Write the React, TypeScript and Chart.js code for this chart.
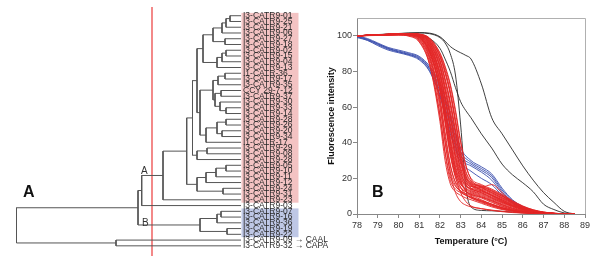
import React, { useEffect, useRef } from "react";
import { Chart, registerables } from "chart.js";

Chart.register(...registerables);

// ---------------- Dendrogram data ----------------
const LEAVES = [
  "I3-CATR9-01", "I3-CATR9-25", "I3-CATR9-21", "I3-CATR9-06", "I3-CATR9-27", "I3-CATR9-18",
  "I3-CATR9-02", "I3-CATR9-15", "I3-CATR9-04", "I3-CATR9-13", "I1-CATR-36", "I3-CATR9-17",
  "I3-CATR9-35", "CCY 29-7-12", "I3-CATR9-37", "I3-CATR9-30", "I3-CATR9-33", "I3-CATR9-14",
  "I3-CATR9-28", "I3-CATR9-26", "I3-CATR9-20", "I3-CATR9-34", "I1-CATR-17", "I3-CATR9-29",
  "I3-CATR9-08", "I3-CATR9-28", "I3-CATR9-05", "I3-CATR9-10", "I3-CATR9-11", "I3-CATR9-12",
  "I3-CATR9-24", "I3-CATR9-31", "I3-CATR9-23", "I3-CATR9-03", "I3-CATR9-07", "I3-CATR9-16",
  "I3-CATR9-36", "I3-CATR9-19", "I3-CATR9-22", "I3-CATR9-09 \u2192 CAAL", "I3-CATR9-32 \u2192 CAPA",
];

// node = [linkage distance, childA, childB]; leaves are indices into LEAVES
const A1 = [28, [19, [15, [11, 0, 1], 2], 3], [16, 4, 5]];
const A2 = [24, [19, [15, 6, 7], 8], 9];
const G1 = [38, A1, A2];
const B1 = [28, [23, [16, 10, 11], 12], [26, [20, 13, 14], [21, 15, [15, 16, 17]]]];
const B2 = [24, [15, 18, 19], [19, 20, 21]];
const B3 = [35, B2, 22];
const G2 = [41, B1, B3];
const XN = [44, G1, G2];
const VN = [44, [34, 23, 24], 25];
const SN = [48.5, XN, VN];
const UN = [35, [25, [15, 26, 27], 28], 29];
const TN = [44, UN, [18, 30, 31]];
const RN = [54.3, SN, TN];
const QN = [78, RN, 32];
const PN = [99.3, QN, 33];
const BLUE_CLUSTER = [41, [24, [20, 34, 35], 36], [14, 37, 38]];
const UPPER = [103, PN, BLUE_CLUSTER];
const OUTGROUP = [125, 39, 40];
const TREE = [224.5, UPPER, OUTGROUP];
const CUT_DISTANCE = 89;
const PINK_RANGE = [0, 32];
const BLUE_RANGE = [34, 38];

// ---------------- Melt curve data ----------------
const T_RED = [78, 79, 80, 80.5, 81, 81.5, 82, 82.25, 82.5, 82.75, 83, 83.25, 83.5, 84, 84.5, 85, 85.5, 86, 86.5, 87, 87.5, 88, 88.5];
const T_BLUE = [78, 78.5, 79, 79.5, 80, 80.5, 81, 81.5, 82, 82.5, 83, 83.5, 84, 84.5, 85, 85.5, 86, 86.5, 87, 88];
const Y_TICKS = [0, 20, 40, 60, 80, 100];

const RED_CURVES = [
  [100, 100.3, 100.5, 100.0, 97.0, 84.0, 52.0, 30.0, 17.0, 12.5, 10.5, 9.0, 8.0, 6.0, 4.0, 2.5, 1.5, 0.8, 0.4, 0.2, 0.1, 0, 0],
  [100, 100.4, 100.6, 100.2, 97.5, 85.5, 56.0, 34.0, 19.0, 14.0, 12.0, 10.5, 9.5, 7.0, 4.8, 3.0, 1.8, 1.0, 0.5, 0.2, 0.1, 0, 0],
  [100, 100.2, 100.4, 99.8, 96.5, 84.0, 55.0, 35.0, 21.0, 15.5, 13.0, 11.5, 10.5, 8.0, 5.5, 3.5, 2.0, 1.1, 0.5, 0.2, 0.1, 0, 0],
  [100, 100.5, 100.8, 100.5, 98.5, 88.5, 62.0, 41.0, 24.0, 16.0, 12.5, 10.5, 9.0, 6.5, 4.5, 2.8, 1.6, 0.9, 0.4, 0.2, 0.1, 0, 0],
  [100, 100.4, 100.7, 100.4, 98.0, 88.0, 64.0, 44.0, 27.0, 18.0, 14.5, 12.5, 11.5, 9.5, 7.0, 4.5, 2.6, 1.4, 0.7, 0.3, 0.1, 0, 0],
  [100, 100.6, 100.9, 100.7, 98.8, 89.5, 65.0, 46.0, 28.0, 17.5, 13.0, 11.0, 9.5, 7.5, 5.5, 3.5, 2.0, 1.1, 0.5, 0.2, 0.1, 0, 0],
  [100, 100.5, 100.8, 100.7, 99.0, 90.5, 69.0, 51.0, 33.0, 20.5, 15.0, 12.5, 11.0, 9.0, 6.5, 4.2, 2.5, 1.3, 0.6, 0.3, 0.1, 0, 0],
  [100, 100.4, 100.9, 100.8, 99.3, 91.0, 70.0, 52.0, 34.0, 22.0, 16.5, 14.0, 12.5, 10.5, 8.0, 5.5, 3.3, 1.8, 0.9, 0.4, 0.2, 0, 0],
  [100, 100.6, 101.0, 100.9, 99.5, 92.0, 71.0, 53.0, 35.0, 21.0, 12.0, 7.0, 4.5, 3.0, 2.0, 1.3, 0.8, 0.5, 0.3, 0.1, 0, 0, 0],
  [100, 100.5, 100.8, 100.6, 99.0, 91.0, 70.5, 54.0, 37.0, 24.0, 17.5, 14.5, 13.0, 11.0, 8.5, 6.0, 3.8, 2.1, 1.1, 0.5, 0.2, 0.1, 0],
  [100, 100.5, 101.0, 101.0, 99.7, 93.0, 74.0, 58.0, 40.0, 25.0, 17.0, 13.5, 12.0, 10.0, 7.5, 5.0, 3.0, 1.7, 0.8, 0.4, 0.2, 0, 0],
  [100, 100.4, 100.8, 100.9, 99.6, 93.5, 75.0, 59.0, 42.0, 27.0, 19.0, 15.5, 14.0, 12.0, 9.0, 6.5, 4.2, 2.4, 1.2, 0.6, 0.3, 0.1, 0],
  [100, 100.6, 100.9, 100.8, 99.4, 92.5, 74.5, 58.5, 41.0, 26.0, 18.0, 13.0, 10.0, 7.5, 5.5, 3.6, 2.2, 1.2, 0.6, 0.3, 0.1, 0, 0],
  [100, 100.5, 101.0, 101.1, 99.8, 94.0, 76.5, 61.0, 44.0, 29.0, 20.0, 16.0, 14.5, 13.0, 10.5, 7.5, 4.8, 2.7, 1.4, 0.7, 0.3, 0.1, 0],
  [100, 100.5, 100.9, 101.0, 100.0, 94.5, 78.0, 64.0, 48.0, 32.0, 21.0, 16.0, 14.0, 12.5, 10.0, 7.0, 4.5, 2.6, 1.3, 0.6, 0.3, 0.1, 0],
  [100, 100.6, 101.0, 101.1, 100.1, 95.0, 79.0, 65.0, 49.0, 33.0, 22.0, 17.0, 15.5, 14.0, 11.5, 8.5, 5.5, 3.1, 1.6, 0.8, 0.3, 0.1, 0],
  [100, 100.4, 100.8, 100.9, 99.9, 94.5, 78.5, 64.5, 48.5, 31.0, 19.0, 13.0, 11.0, 9.5, 7.5, 5.2, 3.2, 1.8, 0.9, 0.4, 0.2, 0, 0],
  [100, 100.5, 100.9, 101.0, 100.2, 95.5, 80.0, 66.5, 51.0, 35.0, 23.0, 17.5, 15.5, 15.0, 16.5, 12.0, 6.5, 3.2, 1.5, 0.7, 0.3, 0.1, 0],
  [100, 100.5, 101.0, 101.1, 100.3, 96.0, 82.0, 69.0, 54.0, 38.0, 25.0, 18.5, 16.0, 13.5, 11.0, 8.0, 5.2, 3.0, 1.5, 0.7, 0.3, 0.1, 0],
  [100, 100.6, 101.1, 101.2, 100.4, 96.5, 83.0, 70.5, 56.0, 40.0, 26.0, 19.0, 16.5, 14.5, 12.0, 9.0, 6.0, 3.5, 1.8, 0.8, 0.3, 0.1, 0],
  [100, 100.4, 100.9, 101.0, 100.2, 95.8, 82.5, 70.0, 55.0, 38.5, 24.0, 16.5, 13.5, 11.5, 9.0, 6.5, 4.3, 2.5, 1.3, 0.6, 0.2, 0.1, 0],
  [100, 100.5, 101.0, 101.1, 100.5, 96.8, 84.0, 72.0, 58.0, 42.0, 28.0, 20.0, 17.0, 15.5, 13.0, 10.0, 6.8, 3.9, 2.0, 0.9, 0.4, 0.1, 0],
  [100, 100.5, 101.0, 101.2, 100.6, 97.0, 85.5, 74.5, 61.0, 45.0, 30.0, 21.0, 17.5, 15.0, 12.5, 9.5, 6.3, 3.6, 1.8, 0.8, 0.3, 0.1, 0],
  [100, 100.6, 101.1, 101.3, 100.7, 97.5, 86.0, 75.5, 62.5, 46.5, 31.0, 21.5, 17.0, 13.5, 10.5, 7.5, 4.8, 2.8, 1.4, 0.6, 0.2, 0.1, 0],
  [100, 100.4, 100.9, 101.1, 100.5, 97.2, 86.5, 76.0, 63.0, 47.0, 30.0, 19.0, 14.5, 12.0, 9.5, 7.0, 4.6, 2.7, 1.4, 0.6, 0.2, 0.1, 0],
  [100, 100.5, 101.0, 101.2, 100.8, 98.0, 88.0, 79.0, 67.0, 51.0, 34.0, 23.0, 18.0, 15.5, 13.0, 10.0, 6.8, 4.0, 2.1, 1.0, 0.4, 0.1, 0],
  [100, 100.6, 101.1, 101.3, 100.9, 98.3, 89.0, 80.5, 69.0, 53.0, 36.0, 24.0, 18.5, 16.0, 13.5, 10.5, 7.2, 4.3, 2.3, 1.1, 0.4, 0.1, 0],
  [100, 100.5, 101.0, 101.2, 100.7, 97.8, 88.5, 79.5, 68.0, 52.0, 33.0, 21.0, 16.0, 13.0, 10.5, 8.0, 5.3, 3.1, 1.6, 0.7, 0.3, 0.1, 0],
  [100, 100.5, 101.0, 101.2, 100.9, 98.5, 90.0, 82.0, 72.0, 57.0, 40.0, 27.0, 20.0, 16.5, 14.0, 11.0, 7.5, 4.5, 2.4, 1.1, 0.4, 0.1, 0],
  [100, 100.6, 101.1, 101.3, 101.0, 98.8, 90.5, 83.0, 73.0, 58.5, 41.0, 27.5, 19.5, 15.0, 12.0, 9.0, 6.0, 3.5, 1.8, 0.8, 0.3, 0.1, 0],
  [100, 100.3, 100.6, 100.3, 98.0, 87.0, 60.0, 40.0, 23.0, 12.0, 7.0, 5.0, 4.0, 3.0, 2.2, 1.5, 1.0, 0.6, 0.3, 0.1, 0, 0, 0],
  [100, 100.5, 100.8, 100.7, 99.2, 91.5, 72.0, 56.0, 38.0, 23.0, 15.0, 11.0, 9.0, 7.0, 5.0, 3.3, 2.0, 1.1, 0.5, 0.2, 0.1, 0, 0],
];

const BLUE_CURVES = [
  [100, 98.5, 96, 93.5, 92, 90.5, 88.5, 83, 73, 56, 37, 30, 26.5, 22.5, 14.5, 8, 4.2, 2, 0.8, 0],
  [99.5, 98, 95.5, 93, 91.5, 90, 88, 82, 71, 53, 35, 29, 25.5, 21.5, 13.5, 7.5, 4, 1.8, 0.7, 0],
  [99, 97.5, 95, 92.5, 91, 89.5, 87.5, 81.5, 69, 50, 33, 28, 24.5, 20.5, 12.5, 7, 3.6, 1.6, 0.6, 0],
  [100, 98, 95.5, 93, 91, 89.5, 87, 80.5, 67, 47, 31, 27, 23.5, 19, 11.5, 6.5, 3.2, 1.4, 0.5, 0],
  [99.5, 97.5, 94.5, 92, 90.5, 89, 86.5, 80, 66, 45, 29, 24, 20, 16.5, 10.5, 6, 3, 1.2, 0.5, 0],
];

const BLACK_CURVES = [
  [100, 100.6, 101.2, 101.5, 101.6, 101.2, 99, 96, 90, 78, 50, 15, 4, 2, 1.8, 1.5, 1.1, 0.7, 0.4, 0.2, 0.1, 0, 0],
  [100, 100.4, 100.8, 100.8, 100.5, 98.5, 93, 87, 80, 71, 63, 58, 54, 45, 37, 28, 22, 17.5, 12.5, 5.5, 2.5, 0.6, 0],
  [100, 100.7, 101.3, 101.6, 101.8, 101.5, 99.5, 97, 94, 92, 90.5, 89, 87, 73, 54, 45, 36, 27, 19, 12, 6.5, 1.5, 0],
];

const FONT = "'Liberation Sans', Arial, sans-serif";

type Node = number | any[];

function buildTree(node: Node, pts: any[]): { y: number; h: number } {
  if (typeof node === "number") return { y: node, h: 0 };
  const [h, a, b] = node as [number, Node, Node];
  const A = buildTree(a, pts);
  const B = buildTree(b, pts);
  pts.push({ x: A.h, y: A.y }, { x: h, y: A.y }, { x: h, y: B.y }, { x: B.h, y: B.y }, { x: B.h, y: null });
  return { y: (A.y + B.y) / 2, h };
}

const bandPlugin = {
  id: "bands",
  beforeDraw(chart: any) {
    const { ctx, chartArea, scales } = chart;
    const y = scales.y;
    const left = chartArea.right + 0.5;
    const width = 57;
    ctx.save();
    const draw = (r: number[], color: string) => {
      const t = y.getPixelForValue(r[0] - 0.5);
      const b = y.getPixelForValue(r[1] + 0.5);
      ctx.fillStyle = color;
      ctx.fillRect(left, t, width, b - t);
    };
    draw(PINK_RANGE, "#f3c3c3");
    draw(BLUE_RANGE, "#bec7e5");
    ctx.restore();
  },
};

const framePlugin = {
  id: "frame",
  afterDraw(chart: any) {
    const { ctx, chartArea } = chart;
    ctx.save();
    ctx.strokeStyle = "#b0b0b0";
    ctx.lineWidth = 1;
    ctx.beginPath();
    ctx.moveTo(chartArea.left, chartArea.top + 0.5);
    ctx.lineTo(chartArea.right + 0.5, chartArea.top + 0.5);
    ctx.lineTo(chartArea.right + 0.5, chartArea.bottom);
    ctx.stroke();
    ctx.restore();
  },
};

export default function App() {
  const leftRef = useRef<HTMLCanvasElement>(null);
  const rightRef = useRef<HTMLCanvasElement>(null);

  useEffect(() => {
    Chart.defaults.font.family = FONT;
    const treePts: any[] = [];
    buildTree(TREE, treePts);
    const yMin = -1.5;
    const yMax = 41.75;

    const c1 = new Chart(leftRef.current!, {
      type: "scatter",
      data: {
        datasets: [
          { data: treePts, showLine: true, borderColor: "#555", borderWidth: 1, pointRadius: 0, spanGaps: false },
          {
            data: [{ x: CUT_DISTANCE, y: yMin }, { x: CUT_DISTANCE, y: yMax }],
            showLine: true, borderColor: "#ec3b3b", borderWidth: 1.2, pointRadius: 0,
          },
        ],
      },
      options: {
        responsive: false,
        animation: false,
        layout: { padding: { top: 6, bottom: 4, left: 0, right: 0 } },
        plugins: { legend: { display: false }, tooltip: { enabled: false } },
        scales: {
          x: { type: "linear", display: false, reverse: true, min: 0, max: 241 },
          y: {
            type: "linear",
            position: "right",
            reverse: true,
            min: yMin,
            max: yMax,
            afterBuildTicks: (s: any) => { s.ticks = LEAVES.map((_, i) => ({ value: i })); },
            afterFit: (s: any) => { s.width = 99; },
            grid: { display: false, drawTicks: false },
            border: { display: false },
            ticks: {
              autoSkip: false,
              padding: 2,
              font: { size: 8.5, family: FONT },
              color: "#2a2a2a",
              callback: (v: any) => LEAVES[v as number],
            },
          },
        },
      } as any,
      plugins: [bandPlugin],
    });

    const lineDs = (xs: number[], ys: number[], color: string, w: number) => ({
      type: "line",
      data: xs.map((x, i) => ({ x, y: ys[i] })),
      borderColor: color,
      borderWidth: w,
      pointRadius: 0,
      cubicInterpolationMode: "monotone",
      fill: false,
    });

    const datasets = [
      ...RED_CURVES.map((c) => lineDs(T_RED, c, "#e32626", 0.9)),
      ...BLUE_CURVES.map((c) => lineDs(T_BLUE, c, "#3b4fae", 0.9)),
      ...BLACK_CURVES.map((c) => lineDs(T_RED, c, "#2a2a2a", 0.9)),
    ];

    const axisFont = { size: 9, family: FONT };
    const c2 = new Chart(rightRef.current!, {
      type: "line",
      data: { datasets: datasets as any },
      options: {
        responsive: false,
        animation: false,
        layout: { padding: { top: 18, right: 15, bottom: 16, left: 0 } },
        plugins: { legend: { display: false }, tooltip: { enabled: false } },
        scales: {
          x: {
            type: "linear",
            min: 78,
            max: 89,
            ticks: { stepSize: 1, font: axisFont, color: "#333", padding: 2 },
            grid: { drawOnChartArea: false, drawTicks: true, tickLength: 4, color: "#888" },
            border: { color: "#888" },
            title: { display: true, text: "Temperature (\u00b0C)", font: { size: 9, weight: "bold", family: FONT }, color: "#111", padding: { top: 0, bottom: 0 } },
            afterFit: (s: any) => { s.height = 33; },
          },
          y: {
            type: "linear",
            min: 0,
            max: 110,
            afterBuildTicks: (s: any) => { s.ticks = Y_TICKS.map((v) => ({ value: v })); },
            ticks: { font: axisFont, color: "#333", padding: 1 },
            grid: { drawOnChartArea: false, drawTicks: true, tickLength: 4, color: "#888" },
            border: { color: "#888" },
            title: { display: true, text: "Fluorescence intensity", font: { size: 9, weight: "bold", family: FONT }, color: "#111", padding: { top: 0, bottom: 0 } },
            afterFit: (s: any) => { s.width = 31; },
          },
        },
      } as any,
      plugins: [framePlugin],
    });

    return () => {
      c1.destroy();
      c2.destroy();
    };
  }, []);

  const txt = (extra: any) => ({ position: "absolute" as const, fontFamily: FONT, lineHeight: 1, color: "#111", ...extra });

  return (
    <div style={{ position: "absolute", left: 0, top: 0, width: 600, height: 263, background: "#fff", overflow: "hidden" }}>
      <canvas ref={leftRef} width={340} height={263} style={{ position: "absolute", left: 0, top: 0 }} />
      <canvas ref={rightRef} width={274} height={263} style={{ position: "absolute", left: 326, top: 0 }} />
      <div style={txt({ left: 23, top: 184, fontSize: 16, fontWeight: "bold" })}>A</div>
      <div style={txt({ left: 372, top: 184, fontSize: 16, fontWeight: "bold" })}>B</div>
      <div style={txt({ left: 141, top: 166, fontSize: 10, color: "#333" })}>A</div>
      <div style={txt({ left: 142, top: 218, fontSize: 10, color: "#333" })}>B</div>
    </div>
  );
}
